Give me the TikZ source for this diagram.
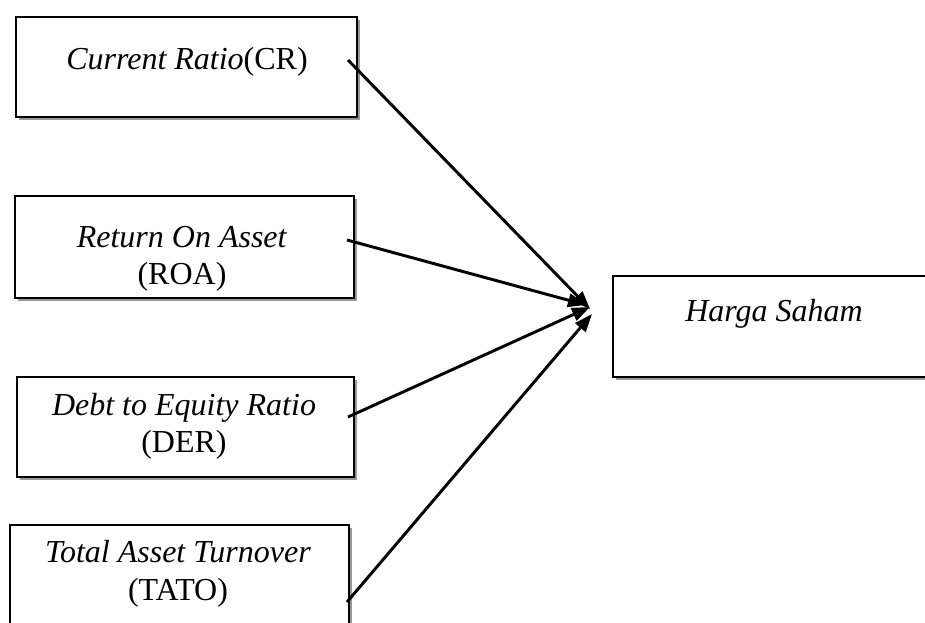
\documentclass[tikz,border=0pt]{standalone}
\usepackage{fontspec}
\setmainfont{Liberation Serif}
\usetikzlibrary{arrows.meta,shadows}

\tikzset{every picture/.style={line width=0.75pt}}
\tikzset{
  varbox/.style={draw, line width=1.8pt, fill=white, inner sep=0pt, anchor=north west,
    drop shadow={shadow xshift=2.2pt, shadow yshift=-2.2pt, fill=black!40, opacity=1}},
  vartext/.style={inner sep=0pt, align=center, anchor=base, font=\fontsize{24}{28}\selectfont},
  link/.style={line width=2.2pt, -{Triangle[length=13.5pt,width=10pt]}}
}

\begin{document}
\begin{tikzpicture}[x=0.75pt,y=0.75pt,yscale=-1,xscale=1]
\useasboundingbox (0,0) rectangle (925,623);
\clip (0,0) rectangle (925,623);

%boxes
\node [varbox, minimum width=255.75pt, minimum height=75pt] (cr) at (15,16) {};
\node [varbox, minimum width=254.25pt, minimum height=76.5pt] (roa) at (14,195) {};
\node [varbox, minimum width=252.75pt, minimum height=75pt] (der) at (16,376) {};
\node [varbox, minimum width=254.25pt, minimum height=94.5pt] (tato) at (9,524) {};
\node [varbox, minimum width=261pt, minimum height=75.75pt] (harga) at (612,275) {};

% Text Node
\node [vartext] (cr-text) at (187,70) {\textit{Current Ratio}(CR)};
% Text Node
\node [vartext] (roa-text) at (182,285) {\textit{Return On Asset}\\(ROA)};
% Text Node
\node [vartext] (der-text) at (184,453) {\textit{Debt to Equity Ratio}\\(DER)};
% Text Node
\node [vartext] (tato-text) at (178,600) {\textit{Total Asset Turnover}\\(TATO)};
% Text Node
\node [vartext] (harga-text) at (774,322) {\textit{Harga Saham}};

%arrow ends
\coordinate (cr-out) at (348,60);
\coordinate (roa-out) at (347,240);
\coordinate (der-out) at (348,417);
\coordinate (tato-out) at (347,602);
\coordinate (cr-in) at (590,309);
\coordinate (roa-in) at (586,305);
\coordinate (der-in) at (590,307);
\coordinate (tato-in) at (592,314);

%Straight Lines
\draw [link] (cr-out) -- (cr-in);
\draw [link] (roa-out) -- (roa-in);
\draw [link] (der-out) -- (der-in);
\draw [link] (tato-out) -- (tato-in);

\end{tikzpicture}
\end{document}
